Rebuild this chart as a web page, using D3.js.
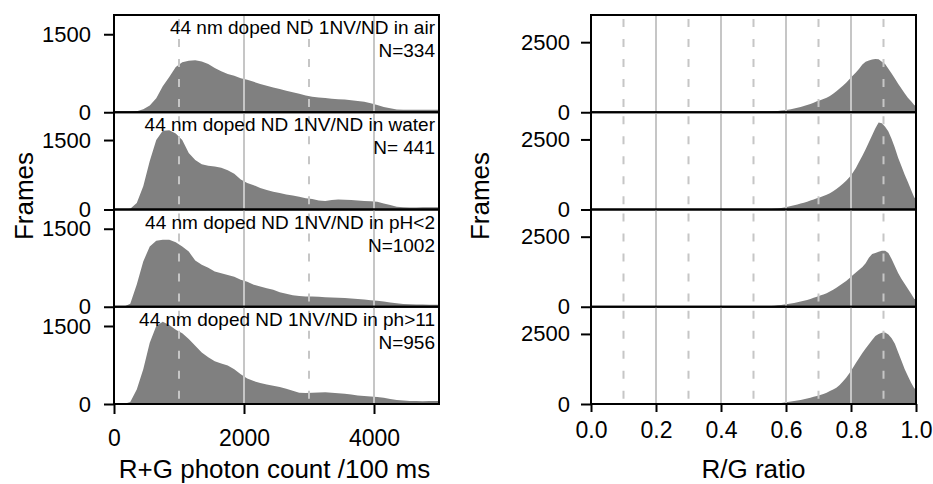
<!DOCTYPE html>
<html>
<head>
<meta charset="utf-8">
<script src="https://cdn.jsdelivr.net/npm/d3@7"></script>
<style>
  body { margin: 0; background: #fff; }
  svg text { font-family: "Liberation Sans", Arial, sans-serif; fill: #000; }
</style>
</head>
<body>
<div id="plot"></div>
<script>
// ---- data ----
const sampleLabels = [
  "44 nm doped ND 1NV/ND in air",
  "44 nm doped ND 1NV/ND in water",
  "44 nm doped ND 1NV/ND in pH<2",
  "44 nm doped ND 1NV/ND in ph>11"
];
const sampleN = ["N=334", "N= 441", "N=1002", "N=956"];

// photon count histograms, bins of 100 counts starting at 0
const countBinWidth = 100;
const countAir = [0,0,5,20,60,130,270,500,680,870, 960,990,1000,975,930,850,790,735,700,655,
  625,585,545,510,475,445,415,385,355,320, 300,285,272,262,252,243,232,218,200,175,
  140,100,75,55,50,48,48,46,46,46];
const countWater = [0,0,15,140,500,1050,1500,1700,1710,1640, 1500,1220,1070,975,945,930,900,850,770,650,
  570,525,465,420,385,355,325,300,275,245, 225,195,185,205,215,210,205,195,185,180,
  165,130,95,60,48,45,45,48,50,50];
const countAcid = [0,0,60,430,870,1160,1270,1290,1290,1240, 1160,1060,890,810,750,680,645,610,575,520,
  480,425,390,355,325,280,250,220,205,198, 195,190,184,180,175,168,160,150,140,125,
  115,100,82,68,55,46,43,41,40,40];
const countBase = [0,0,40,280,670,1180,1500,1580,1520,1430, 1360,1250,1120,990,900,820,780,740,670,570,
  490,440,405,377,350,325,295,255,218,212, 214,222,227,215,205,195,182,165,155,145,
  135,120,95,78,65,58,56,55,56,58];

// R/G ratio histograms, bins of 0.01 starting at 0
const ratioBinWidth = 0.01;
const ratioAir = [0,0,0,0,0,0,0,0,0,0, 0,0,0,0,0,0,0,0,0,0, 0,0,0,0,0,0,0,0,0,0, 0,0,0,0,0,0,0,0,0,0,
  1,1,2,2,3,3,4,5,6,7,
  8,10,14,18,22,28,35,45,58,72, 90,110,135,160,190,220,255,295,340,390,
  430,470,520,580,660,750,850,950,1050,1180, 1300,1420,1550,1700,1800,1850,1880,1900,1890,1800,
  1720,1550,1380,1200,1020,850,680,520,390,250];
const ratioWater = [0,0,0,0,0,0,0,0,0,0, 0,0,0,0,0,0,0,0,0,0, 0,0,0,0,0,0,0,0,0,0, 0,0,0,0,0,0,0,0,0,0,
  1,1,1,2,2,2,3,3,4,4,
  5,8,10,14,18,22,28,40,55,75, 100,125,150,180,210,245,280,320,360,400,
  440,480,530,580,650,730,820,920,1030,1150, 1300,1480,1700,1920,2150,2400,2650,2900,3100,3080,
  2950,2780,2520,2200,1850,1550,1250,980,700,420];
const ratioAcid = [0,0,0,0,0,0,0,0,0,0, 0,0,0,0,0,0,0,0,0,0, 0,0,0,0,0,0,0,0,0,0, 0,0,0,0,0,0,0,0,0,0,
  1,1,2,2,3,3,4,5,6,7,
  8,10,14,18,24,30,38,50,62,78, 95,115,135,160,185,215,245,280,320,360,
  400,440,480,540,610,680,760,840,920,1020, 1120,1220,1320,1420,1550,1750,1880,1920,1960,2000,
  2000,1920,1700,1450,1200,1000,820,640,460,280];
const ratioBase = [0,0,0,0,0,0,0,0,0,0, 0,0,0,0,0,0,0,0,0,0, 0,0,0,0,0,0,0,0,0,0, 0,0,0,0,0,0,0,0,0,0,
  1,1,1,2,2,2,3,3,4,4,
  5,7,10,12,15,18,24,30,40,52, 68,85,105,125,145,170,195,225,255,285,
  320,360,400,460,520,580,680,800,940,1100, 1280,1460,1640,1820,1980,2130,2280,2430,2500,2540,
  2550,2480,2350,2150,1850,1550,1250,1000,760,550];

const countTicks = [0, 2000, 4000];
const countGridSolid = [2000, 4000];
const countGridDashed = [1000, 3000];
const countYTicks = [0, 1500];
const countYMax = [1870, 2100, 1870, 1870];

const ratioTicks = [0, 0.2, 0.4, 0.6, 0.8, 1.0];
const ratioGridSolid = [0.2, 0.4, 0.6, 0.8];
const ratioGridDashed = [0.1, 0.3, 0.5, 0.7, 0.9];
const ratioYTicks = [0, 2500];
const ratioYMax = [3470, 3470, 3470, 3470];

window.addEventListener("load", main)

function main(){

  const width = 933, height = 484;
  const svg = d3.select("#plot").append("svg")
    .attr("width", width)
    .attr("height", height);

  const panelTops = [15, 112.25, 209.5, 306.75];
  const panelH = 97.25;
  const bottom = panelTops[3] + panelH;
  const histFill = "#808080", gridColor = "#c6c6c6";

  function styleAxis(g, size){
    g.select(".domain").remove();
    g.selectAll(".tick line").attr("stroke", "#000").attr("stroke-width", 2);
    g.selectAll(".tick text").attr("font-size", size)
      .attr("font-family", "'Liberation Sans', Arial, sans-serif").attr("fill", "#000");
  }

  // one column of four stacked histograms
  function drawColumn(o){
    const x = d3.scaleLinear().domain(o.domain).range([o.left, o.right]);

    o.series.forEach((vals, i) => {
      const top = panelTops[i], bot = top + panelH;
      const y = d3.scaleLinear().domain([0, o.yMax[i]]).range([bot, top]);
      const g = svg.append("g").attr("class", "panel");

      const clipId = o.id + "clip" + i;
      g.append("clipPath").attr("id", clipId)
        .append("rect")
          .attr("x", o.left).attr("y", top)
          .attr("width", o.right - o.left).attr("height", panelH);

      const pts = vals.map((v, j) => [o.domain[0] + (j + 0.5) * o.binW, v]);
      pts.unshift([o.domain[0], vals[0]]);
      pts.push([o.domain[1], vals[vals.length - 1]]);

      const area = d3.area()
        .x(d => x(d[0]))
        .y0(y(0))
        .y1(d => y(d[1]));

      g.append("path")
        .datum(pts)
        .attr("clip-path", `url(#${clipId})`)
        .attr("d", area)
        .attr("fill", histFill);

      // grid lines sit over the histogram
      g.selectAll("line.solid")
        .data(o.gridSolid)
        .join("line")
          .attr("class", "solid")
          .attr("x1", d => x(d)).attr("x2", d => x(d))
          .attr("y1", top).attr("y2", bot)
          .attr("stroke", gridColor).attr("stroke-width", 2);
      g.selectAll("line.dashed")
        .data(o.gridDashed)
        .join("line")
          .attr("class", "dashed")
          .attr("x1", d => x(d)).attr("x2", d => x(d))
          .attr("y1", top + 4).attr("y2", bot)
          .attr("stroke", gridColor).attr("stroke-width", 2)
          .attr("stroke-dasharray", "8,12");

      g.append("rect")
        .attr("x", o.left).attr("y", top)
        .attr("width", o.right - o.left).attr("height", panelH)
        .attr("fill", "none").attr("stroke", "#000").attr("stroke-width", 2);

      g.append("g")
        .attr("transform", `translate(${o.left},0)`)
        .call(d3.axisLeft(y).tickValues(o.yTicks).tickSize(10).tickPadding(o.yPad).tickFormat(d3.format("d")))
        .call(ax => styleAxis(ax, 22));

      if (o.labels) {
        g.append("text")
          .attr("x", o.right - 4).attr("y", top + 19)
          .attr("text-anchor", "end").attr("font-size", 19)
          .text(o.labels[i]);
        g.append("text")
          .attr("x", o.right - 4).attr("y", top + 42)
          .attr("text-anchor", "end").attr("font-size", 19)
          .text(o.nLabels[i]);
      }
    });

    svg.append("g")
      .attr("transform", `translate(0,${bottom})`)
      .call(d3.axisBottom(x).tickValues(o.xTicks).tickSize(o.xTickSize).tickPadding(o.xPad).tickFormat(o.xFormat))
      .call(ax => styleAxis(ax, 23));

    svg.append("text")
      .attr("x", (o.left + o.right) / 2 + o.titleShift).attr("y", 478)
      .attr("text-anchor", "middle").attr("font-size", 26)
      .text(o.title);

    svg.append("text")
      .attr("transform", `translate(${o.frameX},196) rotate(-90)`)
      .attr("text-anchor", "middle").attr("font-size", 26)
      .text("Frames");
  }

  drawColumn({
    id: "count", left: 114, right: 439, domain: [0, 5000], binW: countBinWidth,
    series: [countAir, countWater, countAcid, countBase], yMax: countYMax, yTicks: countYTicks,
    gridSolid: countGridSolid, gridDashed: countGridDashed,
    xTicks: countTicks, xFormat: d3.format("d"), xTickSize: 10, xPad: 16, yPad: 13,
    labels: sampleLabels, nLabels: sampleN,
    title: "R+G photon count /100 ms", titleShift: -2, frameX: 33
  });

  drawColumn({
    id: "ratio", left: 591, right: 916, domain: [0, 1], binW: ratioBinWidth,
    series: [ratioAir, ratioWater, ratioAcid, ratioBase], yMax: ratioYMax, yTicks: ratioYTicks,
    gridSolid: ratioGridSolid, gridDashed: ratioGridDashed,
    xTicks: ratioTicks, xFormat: d3.format(".1f"), xTickSize: 8, xPad: 10, yPad: 11,
    labels: null,
    title: "R/G ratio", titleShift: 0, frameX: 489
  });

} // end of main
</script>
</body>
</html>
